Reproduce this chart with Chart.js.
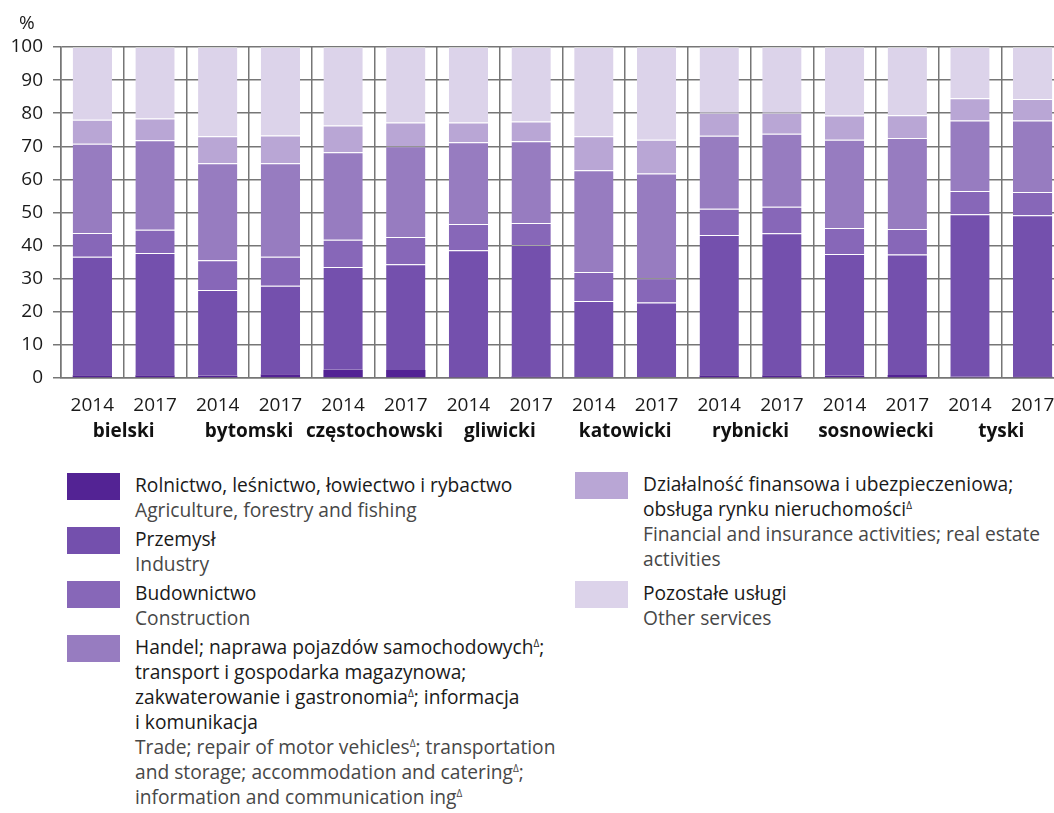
<!DOCTYPE html>
<html>
<head>
<meta charset="utf-8">
<script src="https://cdn.jsdelivr.net/npm/chart.js@4.4.1/dist/chart.umd.min.js"></script>
<style>
  html, body { margin: 0; padding: 0; background: #fff; overflow: hidden; }
  body { width: 1054px; height: 813px; position: relative; font-family: 'Open Sans', sans-serif; }
  #wrap { position: absolute; left: 0; top: 0; width: 1066px; height: 460px; }
  #unit { position: absolute; left: 19px; top: 9px; font-size: 19px; color: #1a1a1a; }
  .col { position: absolute; display: flex; flex-direction: column; }
  #legLeft { left: 67px; top: 472px; gap: 4px; }
  #legRight { left: 575px; top: 471px; gap: 9px; }
  .item { display: flex; align-items: flex-start; }
  .sw { width: 53px; height: 27px; margin-top: 1px; margin-right: 15px; flex: none; }
  .txt { font-size: 19.2px; line-height: 25px; white-space: nowrap; }
  .pl { color: #1a1a1a; }
  .en { color: #474747; }
  sup { font-size: 10px; line-height: 0; vertical-align: 7px; }
</style>
</head>
<body>
<div id="wrap"><canvas id="chart" width="1066" height="460"></canvas></div>
<div id="unit">%</div>
<div id="legLeft" class="col"></div>
<div id="legRight" class="col"></div>
<script>
// categories
const years = ['2014', '2017', '2014', '2017', '2014', '2017', '2014', '2017',
               '2014', '2017', '2014', '2017', '2014', '2017', '2014', '2017'];
const districts = ['bielski', 'bytomski', 'częstochowski', 'gliwicki',
                   'katowicki', 'rybnicki', 'sosnowiecki', 'tyski'];

// shares in %, order follows years[]
const agriculture  = [0.8, 0.8, 0.7, 1.1, 2.5, 2.4, 0.3, 0.5, 0.2, 0.2, 0.8, 0.8, 0.7, 0.9, 0.4, 0.5];
const industry     = [35.8, 37.0, 25.9, 26.8, 31.0, 32.0, 38.3, 39.7, 23.1, 22.6, 42.4, 42.9, 36.8, 36.4, 49.1, 48.7];
const construction = [7.2, 7.0, 9.0, 8.7, 8.3, 8.2, 7.9, 6.6, 8.7, 7.3, 7.9, 8.0, 7.8, 7.7, 7.0, 7.0];
const trade        = [27.0, 27.0, 29.3, 28.3, 26.4, 27.4, 24.7, 24.7, 30.8, 31.7, 22.1, 22.1, 26.7, 27.5, 21.3, 21.6];
const finance      = [7.2, 6.6, 8.1, 8.4, 8.1, 7.2, 6.0, 6.0, 10.2, 10.2, 6.9, 6.3, 7.3, 6.9, 6.7, 6.5];
const otherServ    = [22.0, 21.6, 27.0, 26.7, 23.7, 22.8, 22.8, 22.5, 27.0, 28.0, 19.9, 19.9, 20.7, 20.6, 15.5, 15.7];

const yTicks = [0, 10, 20, 30, 40, 50, 60, 70, 80, 90, 100];

// legend texts (Polish / English), \n = line break
const legendPl = [
    'Rolnictwo, leśnictwo, łowiectwo i rybactwo',
    'Przemysł',
    'Budownictwo',
    'Handel; naprawa pojazdów samochodowychΔ;\ntransport i gospodarka magazynowa;\nzakwaterowanie i gastronomiaΔ; informacja\ni komunikacja',
    'Działalność finansowa i ubezpieczeniowa;\nobsługa rynku nieruchomościΔ',
    'Pozostałe usługi'
];
const legendEn = [
    'Agriculture, forestry and fishing',
    'Industry',
    'Construction',
    'Trade; repair of motor vehiclesΔ; transportation\nand storage; accommodation and cateringΔ;\ninformation and  communication ingΔ',
    'Financial and insurance activities; real estate\nactivities',
    'Other services'
];

const colors = ['#532394', '#7450ad', '#8767b8', '#977cc0', '#b9a6d5', '#dcd3ea'];
const seriesValues = [agriculture, industry, construction, trade, finance, otherServ];

const GRID = '#767676';
const FONT = "'Open Sans', sans-serif";

const datasets = seriesValues.map((values, i) => ({
    label: legendEn[i].split('\n')[0],
    data: values,
    backgroundColor: colors[i],
    borderColor: 'rgba(255,255,255,0.35)',
    borderWidth: i === 0 ? 0 : { top: 1, left: 0, right: 0, bottom: 0 },
    borderSkipped: false,
    xAxisID: 'x',
    yAxisID: 'y',
    barPercentage: 0.627,
    categoryPercentage: 1
}));

// keep the plot area full width; labels never overflow the edges here
function noSidePadding(scale) {
    scale.paddingLeft = 0;
    scale.paddingRight = 0;
}

new Chart(document.getElementById('chart'), {
    type: 'bar',
    data: { labels: years, datasets },
    options: {
        responsive: false,
        animation: false,
        layout: { padding: { top: 47, left: 0, right: 2, bottom: 6 } },
        plugins: { legend: { display: false }, tooltip: { enabled: false } },
        scales: {
            x: {
                stacked: true,
                offset: true,
                weight: 0,
                grid: { offset: true, color: GRID, lineWidth: 1.5, drawTicks: false },
                border: { color: GRID, width: 1.5 },
                ticks: {
                    autoSkip: false, maxRotation: 0, padding: 16,
                    color: '#1a1a1a', font: { family: FONT, size: 19 }
                },
                afterFit(scale) { scale.height = 40; noSidePadding(scale); }
            },
            x2: {
                type: 'category',
                position: 'bottom',
                labels: districts,
                offset: true,
                weight: 1,
                grid: { display: false, drawTicks: false },
                border: { display: false },
                ticks: {
                    autoSkip: false, maxRotation: 0, padding: 2,
                    color: '#111', font: { family: FONT, size: 19, weight: 'bold' }
                },
                afterFit(scale) { scale.height = 36; noSidePadding(scale); }
            },
            y: {
                stacked: true,
                min: 0,
                max: 100,
                grid: { color: GRID, lineWidth: 1.5, tickLength: 8 },
                border: { color: GRID, width: 1.5 },
                ticks: {
                    stepSize: 10, padding: 10,
                    color: '#1a1a1a', font: { family: FONT, size: 19 }
                },
                afterBuildTicks(scale) { scale.ticks = yTicks.map(v => ({ value: v })); },
                afterFit(scale) { scale.width = 61; }
            }
        }
    }
});

// HTML legend
function fmt(s) {
    return s.split('\n').map(line => line.replace(/Δ/g, '<sup>Δ</sup>')).join('<br>');
}
const leftCol = document.getElementById('legLeft');
const rightCol = document.getElementById('legRight');
datasets.forEach((ds, i) => {
    const item = document.createElement('div');
    item.className = 'item';
    item.innerHTML = `
        <div class="sw" style="background:${colors[i]}"></div>
        <div class="txt"><div class="pl">${fmt(legendPl[i])}</div><div class="en">${fmt(legendEn[i])}</div></div>`;
    (i < 4 ? leftCol : rightCol).appendChild(item);
});
</script>
</body>
</html>
